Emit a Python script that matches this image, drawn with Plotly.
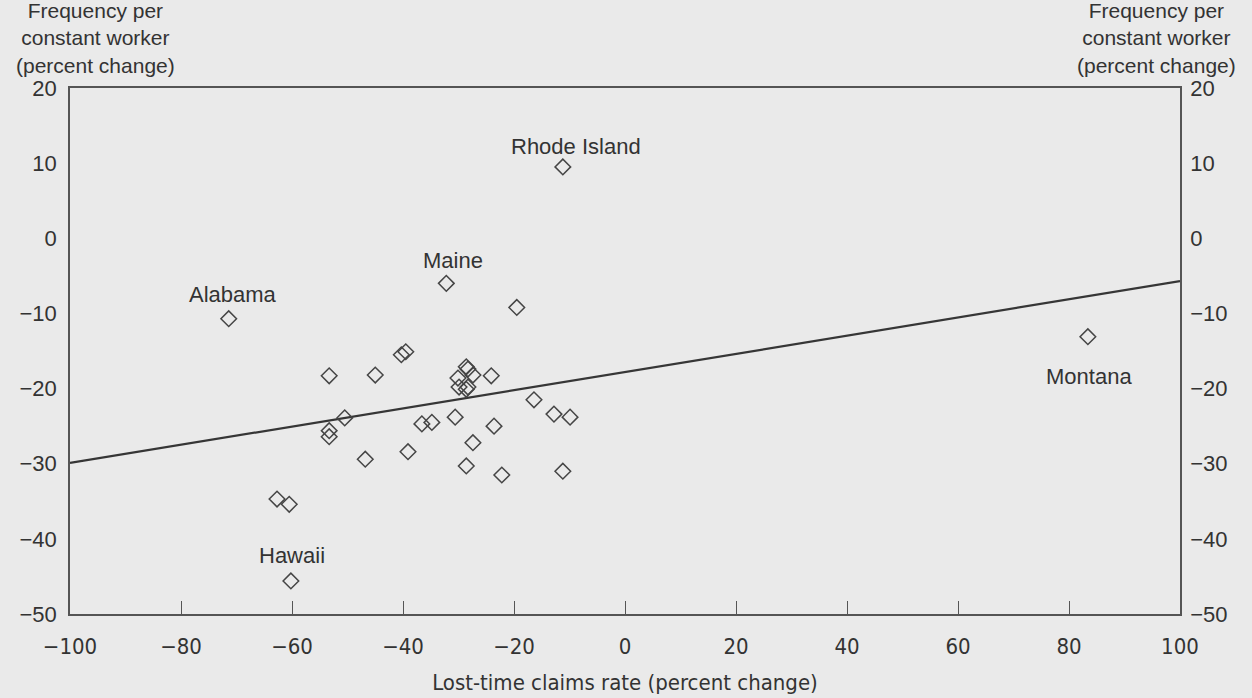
import plotly.graph_objects as go

# Data
claims_rate = [-71.4, -32.2, -19.5, 83.4, -11.2, -60.2, -62.7, -60.5,
               -40.3, -39.5, -53.3, -45.0, -50.5, -53.3, -53.3, -46.8, -39.1,
               -36.6, -34.8, -28.6, -28.3, -30.1, -27.4, -24.1, -29.9, -28.6,
               -28.3, -16.4, -12.8, -9.9, -30.6, -23.6, -27.4, -28.6, -22.2, -11.2]
frequency = [-10.7, -6.0, -9.2, -13.1, 9.5, -45.6, -34.7, -35.4,
             -15.5, -15.1, -18.3, -18.2, -23.9, -25.6, -26.4, -29.4, -28.4,
             -24.7, -24.5, -17.1, -17.4, -18.6, -18.2, -18.3, -19.8, -20.1,
             -19.8, -21.5, -23.4, -23.8, -23.8, -25.0, -27.2, -30.3, -31.5, -31.0]

fit_x = [-100, 100]
fit_y = [-29.9, -5.7]

state_names = ["Rhode Island", "Maine", "Alabama", "Hawaii", "Montana"]
state_label_x = [-8.8, -31.0, -70.7, -60.0, 83.6]
state_label_y = [12.2, -2.9, -7.5, -42.2, -18.4]

x_ticks = [-100, -80, -60, -40, -20, 0, 20, 40, 60, 80, 100]
y_ticks = [20, 10, 0, -10, -20, -30, -40, -50]
y_title = "Frequency per<br>constant worker<br>(percent change)"

TEXT = "#333333"
BG = "#eaeaea"
FONT = "Liberation Sans, Arial, Helvetica, sans-serif"
NARROW = "DejaVu Sans Condensed, Liberation Sans Narrow, Liberation Sans, sans-serif"

W, H = 1252, 698
ML, MR, MT, MB = 70, 72, 88, 84

def fmt(v):
    return str(v).replace("-", "\u2212")

fig = go.Figure()
fig.add_trace(go.Scatter(
    x=fit_x, y=fit_y, mode="lines",
    line=dict(color="#363636", width=2.2), showlegend=False, hoverinfo="skip"))
fig.add_trace(go.Scatter(
    x=claims_rate, y=frequency, mode="markers",
    marker=dict(symbol="diamond-open", size=12, color="#454545",
                line=dict(width=1.5, color="#454545")),
    showlegend=False))
fig.add_trace(go.Scatter(
    x=[None], y=[None], yaxis="y2", mode="markers", showlegend=False))

for name, lx, ly in zip(state_names, state_label_x, state_label_y):
    fig.add_annotation(x=lx, y=ly, text=name, showarrow=False,
                       font=dict(family=FONT, size=22, color=TEXT),
                       xanchor="center", yanchor="middle")

pw = W - ML - MR
ph = H - MT - MB
for cx in (95, 1156):
    fig.add_annotation(x=(cx - ML) / pw, y=(H - MB - 38) / ph,
                       xref="paper", yref="paper",
                       text=y_title, showarrow=False, align="center",
                       borderpad=0,
                       font=dict(family=FONT, size=21, color=TEXT),
                       xanchor="center", yanchor="middle")

fig.update_layout(
    width=W, height=H,
    margin=dict(l=ML, r=MR, t=MT, b=MB),
    paper_bgcolor=BG, plot_bgcolor=BG,
    font=dict(family=FONT, color=TEXT),
    xaxis=dict(range=[-100, 100], tickvals=x_ticks,
               ticktext=[fmt(v) for v in x_ticks], automargin=False,
               ticks="inside", ticklen=13, tickwidth=1.2, tickcolor="#555",
               showline=True, linecolor="#555", linewidth=1.5, mirror=True,
               showgrid=False, zeroline=False, ticklabelstandoff=12,
               tickfont=dict(family=NARROW, size=22, color=TEXT),
               title=dict(text="Lost-time claims rate (percent change)",
                          font=dict(family=NARROW, size=22, color=TEXT),
                          standoff=16)),
    yaxis=dict(range=[-50, 20], tickvals=y_ticks, automargin=False,
               ticktext=[fmt(v) for v in y_ticks],
               ticks="", showline=True, linecolor="#555", linewidth=1.5,
               showgrid=False, zeroline=False, ticklabelstandoff=7,
               tickfont=dict(family=FONT, size=22, color=TEXT)),
    yaxis2=dict(range=[-50, 20], tickvals=y_ticks, automargin=False,
                ticktext=[fmt(v) for v in y_ticks], overlaying="y", side="right",
                ticks="", showline=True, linecolor="#555", linewidth=1.5,
                showgrid=False, zeroline=False, ticklabelstandoff=4,
                tickfont=dict(family=FONT, size=22, color=TEXT)),
)

fig.write_html("out.html")
